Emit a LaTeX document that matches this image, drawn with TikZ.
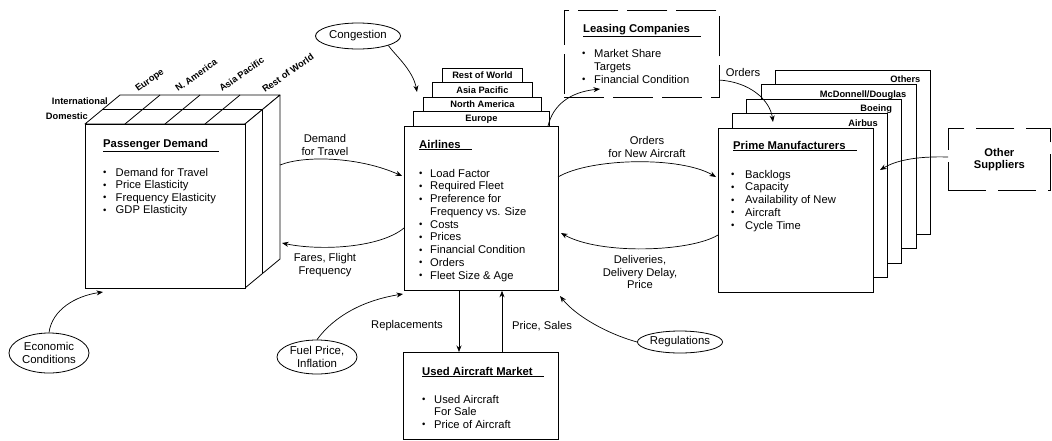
\documentclass[tikz,border=0pt]{standalone}
\usepackage{fontspec}
\setmainfont{Liberation Sans}
\usepackage{graphicx}
\usetikzlibrary{arrows.meta,shapes.geometric,calc}
\newlength\bw
\newcommand\bi{\makebox[\bw][l]{\raisebox{0.4pt}{\scalebox{0.85}{\textbullet}}}}
\newcommand\bc{\hspace*{\bw}}
\newcommand\blist[3]{\setlength\bw{#1}\parbox[t]{170pt}{\fontsize{11.2}{#2}\selectfont\raggedright #3}}
\newcommand\ttltext[1]{\underline{#1\hspace{11pt}}}
\tikzset{
 box/.style={draw, line width=0.8pt, fill=white, inner sep=0pt, anchor=north west},
 dbox/.style={draw, line width=0.8pt, dash pattern=on 40pt off 9pt, inner sep=0pt, anchor=north west},
 lbl/.style={font=\fontsize{11.2}{12.4}\selectfont, align=center, inner sep=0pt},
 small/.style={font=\fontsize{9.3}{11}\selectfont\bfseries, inner sep=0pt},
 ttl/.style={font=\fontsize{11.3}{13}\selectfont\bfseries, inner sep=0pt, anchor=base west},
 lst/.style={inner sep=0pt, anchor=base west},
 oval/.style={draw, ellipse, line width=0.8pt, inner sep=0pt, align=center, font=\fontsize{11.4}{12.2}\selectfont},
 arr/.style={line width=0.7pt, -{Stealth[length=6.5pt,width=5pt]}},
 face/.style={draw, line width=0.8pt, fill=white, line join=round}
}
\begin{document}
\begin{tikzpicture}[x=1pt,y=-1pt]
\useasboundingbox (0,0) rectangle (1052,440);

% ---------- Passenger demand cube ----------
\draw[face] (85,124) -- (120,95) -- (280,95) -- (245,124) -- cycle;
\draw[face] (245,124) -- (280,95) -- (280,259) -- (245,288) -- cycle;
\draw[line width=0.8pt] (102.5,109.5) -- (262.5,109.5);
\draw[line width=0.8pt] (262.5,109.5) -- (262.5,273.5);
\foreach \k in {1,2,3} \draw[line width=0.8pt] (85+40*\k,124) -- (120+40*\k,95);
\node[box, minimum width=160pt, minimum height=164pt] (pd) at (85,124) {};
\node[small, anchor=base east] (intl) at (108,104) {International};
\node[small, anchor=base east] (dom) at (88,119) {Domestic};
\node[small, anchor=base west, rotate=35] (ceu) at (138,92) {Europe};
\node[small, anchor=base west, rotate=35] (cna) at (178,92) {N. America};
\node[small, anchor=base west, rotate=35] (cap) at (222,92) {Asia Pacific};
\node[small, anchor=base west, rotate=35] (crw) at (265,93) {Rest of World};
\node[ttl] (pdt) at (103,147) {\ttltext{Passenger Demand}};
\node[lst] (pdl) at (103,176) {\blist{12.5pt}{12.6pt}{\bi Demand for Travel\\ \bi Price Elasticity\\ \bi Frequency Elasticity\\ \bi GDP Elasticity}};

% ---------- Airlines ----------
\node[box, minimum width=136pt, minimum height=15pt] (t1) at (413,111) {};
\node[box, minimum width=118pt, minimum height=14pt] (t2) at (423,97) {};
\node[box, minimum width=100pt, minimum height=15pt] (t3) at (432,82) {};
\node[box, minimum width=80pt, minimum height=14pt] (t4) at (442,68) {};
\node[small] (t1l) at (t1.center) {Europe};
\node[small] (t2l) at (t2.center) {North America};
\node[small] (t3l) at (t3.center) {Asia Pacific};
\node[small] (t4l) at (t4.center) {Rest of World};
\node[box, minimum width=154pt, minimum height=164pt] (air) at (404,126) {};
\node[ttl] (airt) at (419,148) {\ttltext{Airlines}};
\node[lst] (airl) at (419,177) {\blist{11pt}{12.75pt}{\bi Load Factor\\ \bi Required Fleet\\ \bi Preference for\\ \bc Frequency vs. Size\\ \bi Costs\\ \bi Prices\\ \bi Financial Condition\\ \bi Orders\\ \bi Fleet Size \& Age}};

% ---------- Leasing companies ----------
\node[dbox, minimum width=155pt, minimum height=87pt] (lease) at (564,10) {};
\node[ttl] (leat) at (583,32) {\ttltext{Leasing Companies}};
\node[lst] (leal) at (582,57) {\blist{12pt}{13pt}{\bi Market Share\\ \bc Targets\\ \bi Financial Condition}};

% ---------- Prime manufacturers ----------
\foreach \i/\nm/\lab in {4/pm4/{Others},3/pm3/{McDonnell/Douglas},2/pm2/{Boeing},1/pm1/{Airbus}}{
  \node[box, minimum width=155pt, minimum height=164pt] (\nm) at (718+14.2*\i,128-14.6*\i) {};
  \node[small, anchor=base east] (\nm l) at ($(\nm.north east)+(-10,13)$) {\lab};
}
\node[box, minimum width=155pt, minimum height=164pt] (pm) at (718,128) {};
\node[ttl] (pmt) at (733,149) {\ttltext{Prime Manufacturers}};
\node[lst] (pml) at (731,178) {\blist{14pt}{12.75pt}{\bi Backlogs\\ \bi Capacity\\ \bi Availability of New\\ \bi Aircraft\\ \bi Cycle Time}};

% ---------- Other suppliers ----------
\node[dbox, dash pattern=on 38pt off 12pt, minimum width=102pt, minimum height=62pt] (os) at (948,128) {};
\node[lbl, font=\fontsize{11.2}{12.4}\selectfont\bfseries] (ost) at (os.center) {Other\\Suppliers};

% ---------- Used aircraft market ----------
\node[box, minimum width=155pt, minimum height=87pt] (used) at (403,352) {};
\node[ttl] (usedt) at (422,375) {\ttltext{Used Aircraft Market}};
\node[lst] (usedl) at (422,403) {\blist{12pt}{12.5pt}{\bi Used Aircraft\\ \bc For Sale\\ \bi Price of Aircraft}};

% ---------- Ovals ----------
\node[oval, minimum width=85pt, minimum height=26pt] (cong) at (358,36) {Congestion};
\node[oval, minimum width=80pt, minimum height=40pt] (econ) at (49,353) {Economic\\Conditions};
\node[oval, minimum width=80pt, minimum height=34pt] (fuel) at (317,357) {Fuel Price,\\Inflation};
\node[oval, minimum width=85pt, minimum height=22pt] (reg) at (680,342) {Regulations};

% ---------- Attach points ----------
\coordinate (cubeA) at (280,165);
\coordinate (cubeB) at (282,243);
\coordinate (airA) at (402,176);
\coordinate (airB) at (404,228);
\coordinate (airC) at (558,177);
\coordinate (airD) at (561,233);
\coordinate (airE) at (548,126);
\coordinate (airF) at (403,294);
\coordinate (airG) at (560,296);
\coordinate (airH) at (417,92);
\coordinate (pmA) at (716,177);
\coordinate (pmB) at (718,235);
\coordinate (pmC) at (773,122);
\coordinate (pmD) at (880,170);
\coordinate (leaA) at (600,89);
\coordinate (leaB) at (719,80);
\coordinate (osA) at (948,157);
\coordinate (pdA) at (103,292);

% ---------- Connectors ----------
\draw[arr] (cubeA) .. controls (305,155) and (360,157) .. (airA);
\draw[arr] (airB) .. controls (380,248) and (320,251) .. (cubeB);
\draw[arr] (airC) .. controls (590,158) and (680,156) .. (pmA);
\draw[arr] (pmB) .. controls (690,252) and (600,255) .. (airD);
\draw[arr] (airE) .. controls (553,105) and (570,92) .. (leaA);
\draw[arr] (leaB) .. controls (750,82) and (770,100) .. (pmC);
\draw[arr] (osA) .. controls (915,156) and (895,161) .. (pmD);
\draw[arr] (cong.south east) .. controls (395,55) and (413,70) .. (airH);
\draw[arr] (econ.north) .. controls (52,310) and (75,296) .. (pdA);
\draw[arr] (fuel.north) .. controls (335,315) and (365,300) .. (airF);
\draw[arr] (reg.west) .. controls (605,333) and (575,315) .. (airG);
\draw[arr] (air.south -| 459,0) -- (used.north -| 459,0);
\draw[arr] (used.north -| 502,0) -- (air.south -| 502,0);

% ---------- Connector labels ----------
\node[lbl] (l1) at (325,145) {Demand\\for Travel};
\node[lbl] (l2) at (325,265) {Fares, Flight\\Frequency};
\node[lbl] (l3) at (647,147) {Orders\\for New Aircraft};
\node[lbl] (l4) at (640,272) {Deliveries,\\Delivery Delay,\\Price};
\node[lbl] (l5) at (743,72) {Orders};
\node[lbl] (l6) at (407,326) {Replacements};
\node[lbl] (l7) at (542,326) {Price, Sales};
\end{tikzpicture}
\end{document}
